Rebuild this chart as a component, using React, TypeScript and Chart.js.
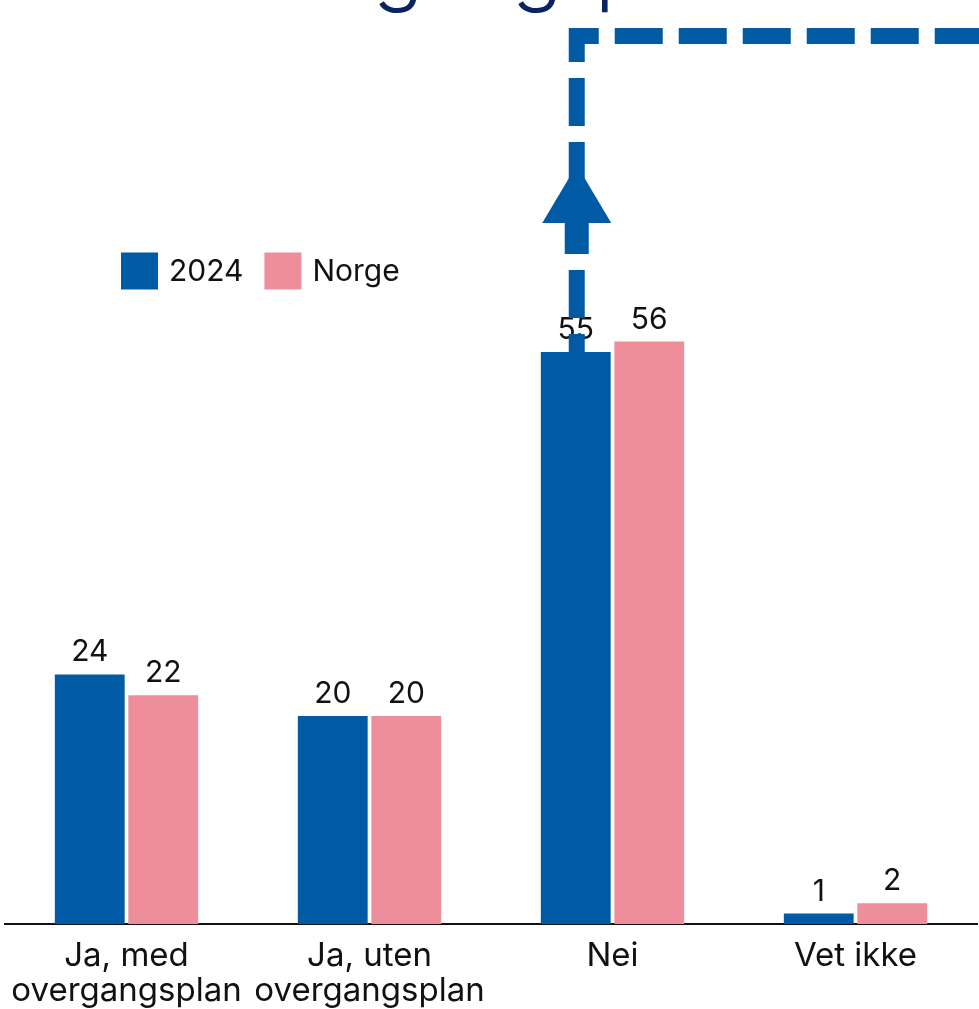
import React, { useEffect, useRef } from "react";
import { Chart, registerables } from "chart.js";

Chart.register(...registerables);

const categories: string[][] = [
  ["Ja, med", "overgangsplan"],
  ["Ja, uten", "overgangsplan"],
  ["Nei"],
  ["Vet ikke"],
];
const series2024: number[] = [24, 20, 55, 1];
const seriesNorge: number[] = [22, 20, 56, 2];
const seriesNames: string[] = ["2024", "Norge"];
const titleFragments: string[] = ["g", "g", "p"];

const BLUE = "#005BA4";
const PINK = "#EE8E9B";
const NAVY = "#0A2361";
const TEXT = "#111111";
const FONT = "Inter, 'Noto Sans', sans-serif";

const decorPlugin = {
  id: "decor",
  afterDatasetsDraw(chart: any) {
    const ctx = chart.ctx as CanvasRenderingContext2D;
    // data labels
    ctx.save();
    ctx.fillStyle = TEXT;
    ctx.font = `30px ${FONT}`;
    ctx.textAlign = "center";
    ctx.textBaseline = "alphabetic";
    chart.data.datasets.forEach((ds: any, di: number) => {
      const meta = chart.getDatasetMeta(di);
      meta.data.forEach((bar: any, i: number) => {
        ctx.fillText(String(ds.data[i]), bar.x, bar.y - 13);
      });
    });
    ctx.restore();
  },
  afterDraw(chart: any) {
    const ctx = chart.ctx as CanvasRenderingContext2D;

    // partial title glyphs cut at the top edge
    ctx.save();
    ctx.fillStyle = NAVY;
    ctx.font = `300 84px ${FONT}`;
    ctx.textAlign = "center";
    ctx.textBaseline = "alphabetic";
    ctx.fillText(titleFragments[0], 398, -5);
    ctx.fillText(titleFragments[1], 537, -5);
    ctx.textAlign = "left";
    ctx.fillText(titleFragments[2], 595, -5);
    ctx.restore();

    // legend
    ctx.save();
    ctx.font = `30px ${FONT}`;
    ctx.textBaseline = "middle";
    ctx.textAlign = "left";
    const legendY = 271;
    let lx = 121;
    seriesNames.forEach((name, i) => {
      ctx.fillStyle = i === 0 ? BLUE : PINK;
      ctx.fillRect(lx, legendY - 18.5, 37, 37);
      ctx.fillStyle = TEXT;
      ctx.fillText(name, lx + 48, legendY + 1);
      lx += 48 + ctx.measureText(name).width + 21;
    });
    ctx.restore();

    // dashed arrow decoration from the top of the "Nei" 2024 bar
    const meta = chart.getDatasetMeta(0);
    const bar = meta.data[2];
    const ax = bar.x + 1;
    const bottom = bar.y;
    const cornerY = 36;
    ctx.save();
    ctx.strokeStyle = BLUE;
    ctx.lineWidth = 16;
    ctx.lineCap = "butt";
    ctx.lineJoin = "miter";
    ctx.setLineDash([48, 16]);
    ctx.lineDashOffset = 30;
    ctx.beginPath();
    ctx.moveTo(ax, bottom);
    ctx.lineTo(ax, cornerY);
    ctx.lineTo(chart.width + 40, cornerY);
    ctx.stroke();
    ctx.setLineDash([]);
    // arrow head and shaft
    ctx.fillStyle = BLUE;
    ctx.fillRect(ax - 12, 222, 24, 32);
    ctx.beginPath();
    ctx.moveTo(ax, 165);
    ctx.lineTo(ax + 34.5, 223);
    ctx.lineTo(ax - 34.5, 223);
    ctx.closePath();
    ctx.fill();
    ctx.restore();
  },
};

export default function App() {
  const ref = useRef<HTMLCanvasElement | null>(null);
  useEffect(() => {
    if (!ref.current) return;
    const chart = new Chart(ref.current, {
      type: "bar",
      data: {
        labels: categories,
        datasets: [
          {
            label: seriesNames[0],
            data: series2024,
            backgroundColor: BLUE,
            categoryPercentage: 0.605,
            barPercentage: 0.95,
          },
          {
            label: seriesNames[1],
            data: seriesNorge,
            backgroundColor: PINK,
            categoryPercentage: 0.605,
            barPercentage: 0.95,
          },
        ],
      },
      options: {
        responsive: false,
        animation: false,
        layout: { padding: { top: 92, left: 5, right: 2, bottom: 0 } },
        plugins: {
          legend: { display: false },
          tooltip: { enabled: false },
          title: { display: false },
        },
        scales: {
          x: {
            grid: { display: false, drawTicks: false },
            border: { display: true, color: TEXT, width: 2 },
            ticks: {
              color: TEXT,
              font: { family: FONT, size: 33, lineHeight: 1.08 },
              padding: 14,
              maxRotation: 0,
              autoSkip: false,
            },
            afterFit(scale: any) {
              scale.height = 85;
              scale.paddingLeft = 0;
              scale.paddingRight = 0;
            },
          },
          y: {
            display: false,
            min: 0,
            max: 80,
          },
        },
      },
      plugins: [decorPlugin],
    });
    return () => chart.destroy();
  }, []);
  return (
    <div style={{ position: "absolute", left: 0, top: 0, width: 979, height: 1009 }}>
      <canvas ref={ref} width={979} height={1009} style={{ display: "block" }} />
    </div>
  );
}
